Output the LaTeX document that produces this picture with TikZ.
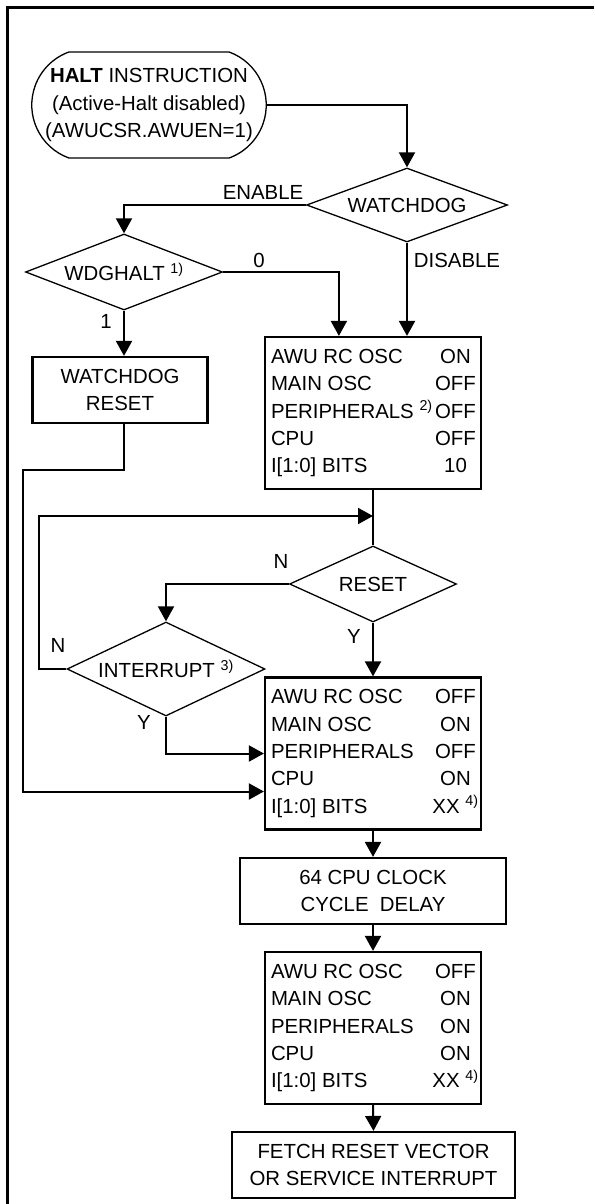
\documentclass[tikz,border=0pt]{standalone}
\usepackage{fontspec}
\setmainfont{Liberation Sans}
\usepackage{tikz}
\usetikzlibrary{shapes.geometric,shapes.misc}
\usetikzlibrary{arrows.meta}
\newcommand{\st}[2]{\makebox[165pt][l]{#1}\makebox[39pt][c]{#2}}

\begin{document}
\begin{tikzpicture}[x=1pt,y=-1pt,
    every node/.style={font=\fontsize{20.4}{27.3}\selectfont},
    termbox/.style={rounded rectangle, rounded rectangle arc length=140, draw, line width=1.3pt,
      minimum width=232pt, minimum height=106pt, inner sep=0pt, align=center},
    decide/.style={diamond, draw, line width=1.3pt, aspect=2.5, inner sep=0pt},
    stbox/.style={draw, line width=2.2pt, minimum width=216pt, minimum height=152pt, inner sep=6pt, align=left},
    plainbox/.style={draw, line width=2.2pt, minimum height=66pt, inner sep=0pt, align=center},
    lbl/.style={inner sep=0pt},
    flow/.style={line width=2pt, -{Triangle[length=15pt,width=16pt]}},
    wire/.style={line width=2pt}]
      \useasboundingbox (0,0) rectangle (594,1204);
      \draw[line width=2.5pt] (594,7.5) -- (7.5,7.5) -- (7.5,1204);
      %
      % Blocks:
      \node[termbox] (halt) at (149,105) {\textbf{HALT} INSTRUCTION\\(Active-Halt disabled)\\(AWUCSR.AWUEN=1)};
      \node[decide, minimum width=201pt, minimum height=74pt] (wdog) at (407,205) {WATCHDOG};
      \node[decide, minimum width=197pt, minimum height=76pt] (wdgh) at (124,272) {WDGHALT \textsuperscript{1)}};
      \node[plainbox, minimum width=175pt] (wrst) at (120,390) {WATCHDOG\\RESET};
      \node[stbox] (halted) at (373,413) {\st{AWU RC OSC}{ON}\\\st{MAIN OSC}{OFF}\\\st{PERIPHERALS \textsuperscript{2)}}{OFF}\\\st{CPU}{OFF}\\\st{I[1:0] BITS}{10}};
      \node[decide, minimum width=167pt, minimum height=76pt] (rst) at (373,584) {RESET};
      \node[decide, minimum width=198pt, minimum height=94pt] (intr) at (166,669) {INTERRUPT \textsuperscript{3)}};
      \node[stbox] (wake) at (373,753.5) {\st{AWU RC OSC}{OFF}\\\st{MAIN OSC}{ON}\\\st{PERIPHERALS}{OFF}\\\st{CPU}{ON}\\\st{I[1:0] BITS}{XX \textsuperscript{4)}}};
      \node[plainbox, minimum width=266pt] (delay) at (373,891) {64 CPU CLOCK\\CYCLE\ \ DELAY};
      \node[stbox] (run) at (373,1028) {\st{AWU RC OSC}{OFF}\\\st{MAIN OSC}{ON}\\\st{PERIPHERALS}{ON}\\\st{CPU}{ON}\\\st{I[1:0] BITS}{XX \textsuperscript{4)}}};
      \node[plainbox, minimum width=283pt] (fetch) at (373.5,1165) {FETCH RESET VECTOR\\OR SERVICE INTERRUPT};
      \coordinate (jn) at (373,516);
      %
      % Branch labels:
      \node[lbl] (lenable) at (263,192) {ENABLE};
      \node[lbl] (ldisable) at (457,260) {DISABLE};
      \node[lbl] (lzero) at (259,260) {0};
      \node[lbl] (lone) at (106,321) {1};
      \node[lbl] (lrstn) at (281,561) {N};
      \node[lbl] (lrsty) at (354,636) {Y};
      \node[lbl] (lintn) at (58,645) {N};
      \node[lbl] (linty) at (144,722) {Y};
      %
      % Flow edges:
      \draw[flow] (halt.east) -| (wdog.north);
      \draw[flow] (wdog.west) -| (wdgh.north);
      \draw[flow] (wdog.south) -- (wdog.south |- halted.north);
      \draw[flow] (wdgh.east) -| ([xshift=75pt]halted.north west);
      \draw[flow] (wdgh.south) -- (wdgh.south |- wrst.north);
      \draw[flow] (wdgh.south |- wrst.south) |- (23,470) |- ([yshift=-38pt]wake.west);
      \draw[wire] (halted.south) -- (rst.north);
      \draw[flow] (intr.west) -- ++(-27,0) |- (jn);
      \draw[flow] (rst.west) -| (intr.north);
      \draw[flow] (rst.south) -- (wake.north);
      \draw[flow] (intr.south) |- (wake.west);
      \draw[flow] (wake.south) -- (delay.north);
      \draw[flow] (delay.south) -- (run.north);
      \draw[flow] (run.south) -- (fetch.north);
\end{tikzpicture}
\end{document}
